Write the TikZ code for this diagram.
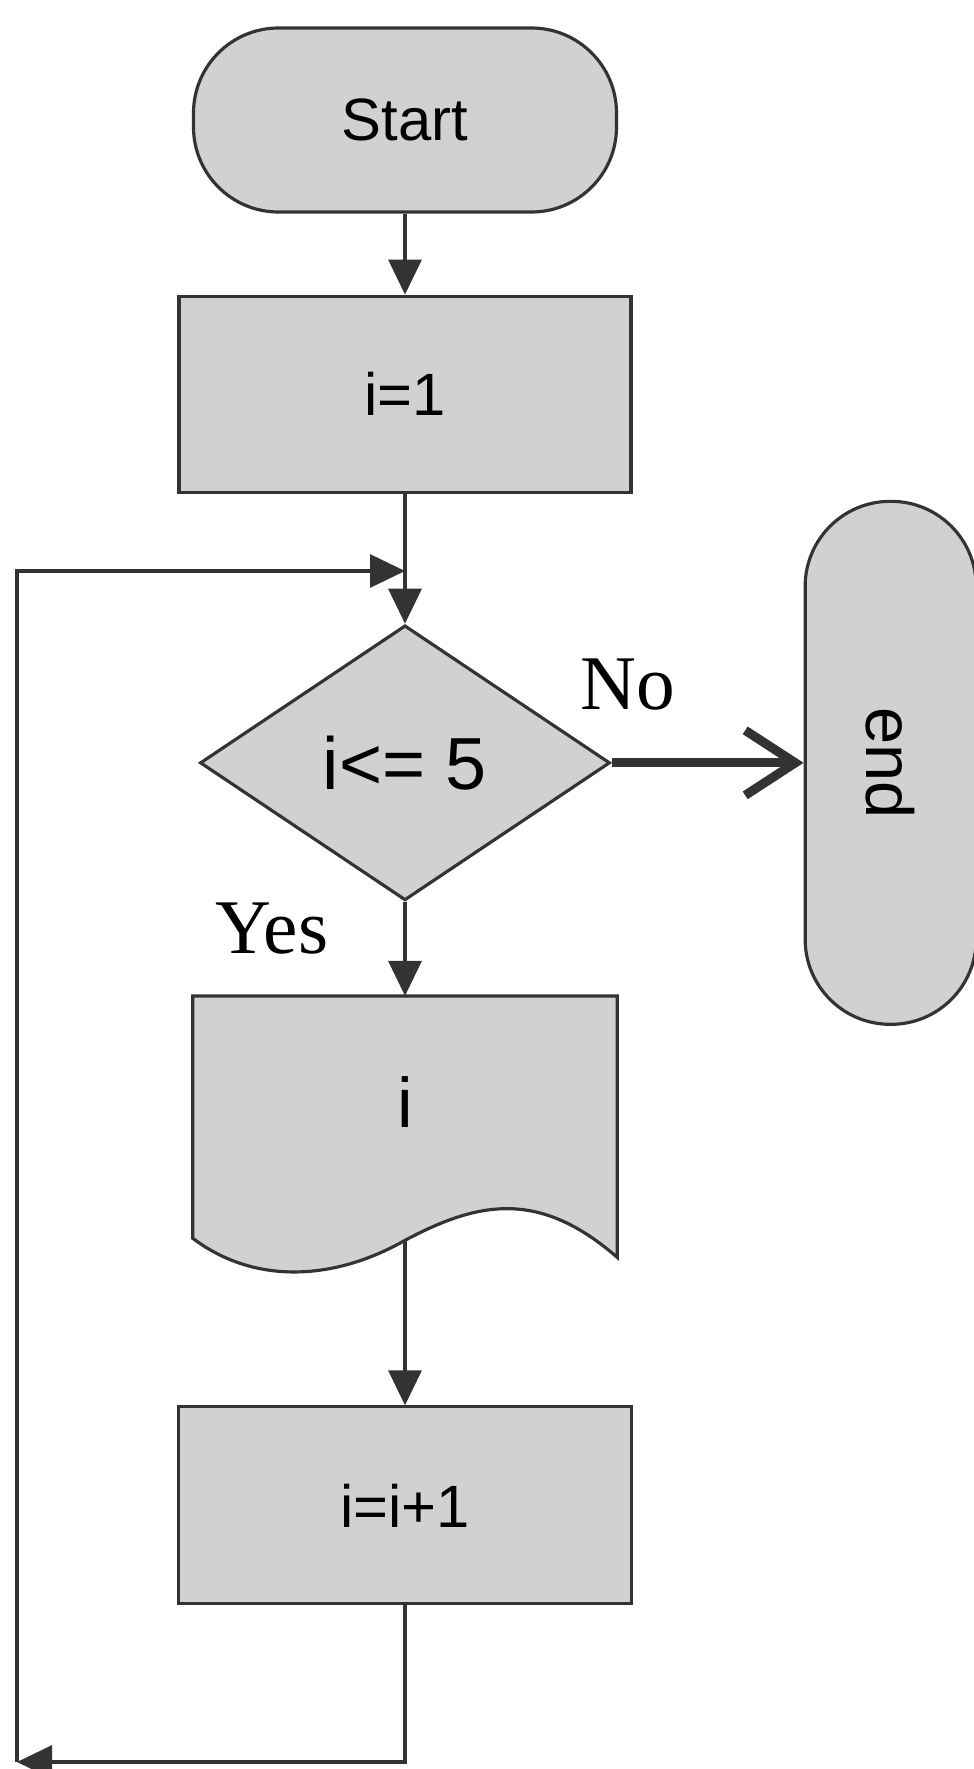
\documentclass[tikz,border=0pt]{standalone}
\usepackage{fontspec}
\setmainfont{Liberation Serif}
\setsansfont{Liberation Sans}
\usetikzlibrary{positioning,arrows.meta,calc,shapes.geometric,backgrounds}

\begin{document}
\begin{tikzpicture}[
    node distance=1cm,
    flow/.style={draw=black!80, line width=0.9pt, fill=black!18},
    term/.style={flow, rounded corners=0.85cm, inner sep=0pt},
    proc/.style={flow, minimum width=4.52cm, minimum height=1.96cm, inner sep=0pt},
    decide/.style={flow, diamond, minimum width=4.10cm, minimum height=2.75cm, inner sep=0pt},
    txt/.style={font=\sffamily\fontsize{17}{20}\selectfont},
    lbl/.style={font=\rmfamily\fontsize{22}{26}\selectfont, inner sep=0pt},
    arr/.style={-{Triangle[length=3.5mm,width=3.3mm]}, line width=0.9pt, draw=black!80},
    noarr/.style={-{Straight Barb[length=5mm,width=6.5mm]}, line width=2.6pt, draw=black!80}
]
\useasboundingbox (0,0) rectangle (9.74,-17.69);

\node[term, txt, minimum width=4.23cm, minimum height=1.84cm] (start) at (4.05,-1.20) {Start};
\node[proc, txt, below=0.81cm of start] (init) {i=1};
\node[decide, font=\sffamily\fontsize{21}{24}\selectfont, below=1.30cm of init] (cond) {i<= 5};
\node[term, minimum width=1.71cm, minimum height=5.23cm, font=\sffamily\fontsize{19}{22}\selectfont,
      right=1.92cm of cond] (stop) {\rotatebox{-90}{end}};
\node[minimum width=4.23cm, minimum height=2.10cm, inner sep=0pt,
      font=\sffamily\fontsize{20}{24}\selectfont, below=0.94cm of cond] (out) {i};
\node[proc, txt, minimum width=4.53cm, minimum height=1.97cm, below=1.98cm of out] (incr) {i=i+1};

% output symbol with wavy bottom
\begin{scope}[on background layer]
\draw[flow] (out.north west) -- (out.north east) -- ($(out.south east)+(0,-0.50)$)
    .. controls ($(out.south)+(1.35,0.17)$) and ($(out.south)+(0.75,0.07)$) .. ($(out.south)+(0,-0.33)$)
    .. controls ($(out.south)+(-0.70,-0.73)$) and ($(out.south)+(-1.50,-0.78)$) .. ($(out.south west)+(0,-0.31)$)
    -- cycle;
\end{scope}

\node[lbl, anchor=base west] (nolbl) at ($(cond.east)+(-0.32,0.53)$) {No};
\node[lbl, anchor=base west] (yeslbl) at ($(cond.south)+(-1.90,-0.52)$) {Yes};

\coordinate (outbot) at ($(out.south)+(0,-0.33)$);
\coordinate (loopbl) at (0.17,-17.62);
\coordinate (join) at (init.south |- 0,-5.71);

\draw[arr] (start) -- (init);
\draw[arr] (init) -- (cond);
\draw[noarr] (cond.east) -- (cond.east -| stop.west);
\draw[arr] (cond) -- (out);
\draw[arr] (outbot) -- (incr);
\draw[arr] (incr.south) |- (loopbl);
\draw[arr] (loopbl) |- (join);
\end{tikzpicture}
\end{document}
